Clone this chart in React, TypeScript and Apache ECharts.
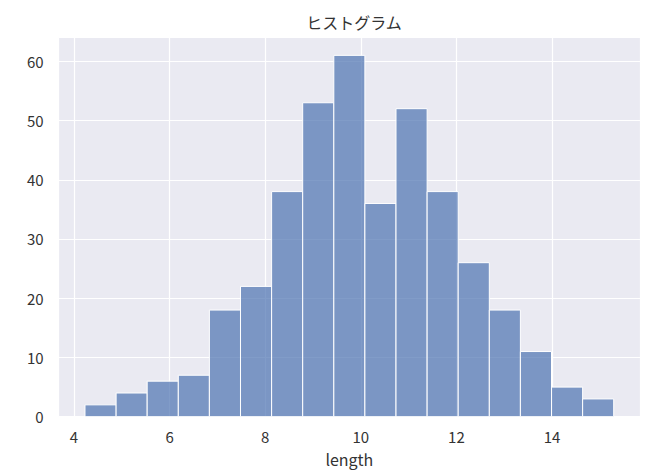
import React, { useEffect, useRef } from "react";
import * as echarts from "echarts";

const binEdges = [4.23, 4.881, 5.531, 6.182, 6.832, 7.483, 8.134, 8.784, 9.435, 10.085, 10.736, 11.387, 12.037, 12.688, 13.338, 13.989, 14.64, 15.29];
const counts = [2, 4, 6, 7, 18, 22, 38, 53, 61, 36, 52, 38, 26, 18, 11, 5, 3];
const xTicks = [4, 6, 8, 10, 12, 14];
const yTicks = [0, 10, 20, 30, 40, 50, 60];
const title = "ヒストグラム";
const xName = "length";

const FONT = "'Noto Sans CJK JP', 'Noto Sans', sans-serif";
const TEXT = "#333333";

export default function App() {
  const ref = useRef<HTMLDivElement>(null);
  useEffect(() => {
    if (!ref.current) return;
    const chart = echarts.init(ref.current, undefined, { renderer: "svg" });
    const data = counts.map((c, i) => [binEdges[i], binEdges[i + 1], c]);
    chart.setOption({
      animation: false,
      backgroundColor: "#ffffff",
      textStyle: { fontFamily: FONT },
      title: {
        text: title,
        left: 349,
        textAlign: "center",
        top: 9,
        textStyle: { fontFamily: FONT, fontSize: 16, fontWeight: "normal", color: TEXT },
      },
      grid: {
        left: 58.7,
        right: 13,
        top: 37.3,
        bottom: 59.3,
        show: true,
        backgroundColor: "#EAEAF2",
        borderWidth: 0,
      },
      xAxis: {
        type: "value",
        min: 3.68,
        max: 15.84,
        splitNumber: 6,
        name: xName,
        nameLocation: "middle",
        nameGap: 34,
        nameTextStyle: { fontFamily: FONT, fontSize: 16, color: TEXT },
        axisLine: { show: false },
        axisTick: { show: false },
        axisLabel: {
          fontFamily: FONT,
          fontSize: 15,
          color: TEXT,
          margin: 12,
          showMinLabel: true,
          showMaxLabel: true,
          formatter: (v: number) => (xTicks.includes(Math.round(v * 1000) / 1000) ? String(v) : ""),
        },
        splitLine: { show: true, lineStyle: { color: "#ffffff", width: 1.2 } },
      },
      yAxis: {
        type: "value",
        min: 0,
        max: 64.05,
        interval: 10,
        axisLine: { show: false },
        axisTick: { show: false },
        axisLabel: {
          fontFamily: FONT,
          fontSize: 15,
          color: TEXT,
          margin: 15,
          formatter: (v: number) => (yTicks.includes(Math.round(v * 1000) / 1000) ? String(v) : ""),
        },
        splitLine: { show: true, lineStyle: { color: "#ffffff", width: 1.2 } },
      },
      series: [
        {
          type: "custom",
          data,
          encode: { x: [0, 1], y: 2 },
          renderItem: (params: any, api: any) => {
            const x0 = api.value(0);
            const x1 = api.value(1);
            const c = api.value(2);
            const p0 = api.coord([x0, c]);
            const p1 = api.coord([x1, 0]);
            return {
              type: "rect",
              shape: { x: p0[0], y: p0[1], width: p1[0] - p0[0], height: p1[1] - p0[1] },
              style: { fill: "rgba(76,114,176,0.7)", stroke: "#ffffff", lineWidth: 1 },
            };
          },
        },
      ],
    });
    return () => chart.dispose();
  }, []);
  return (
    <div
      ref={ref}
      style={{ position: "fixed", left: 0, top: 0, width: 653, height: 476 }}
    />
  );
}
